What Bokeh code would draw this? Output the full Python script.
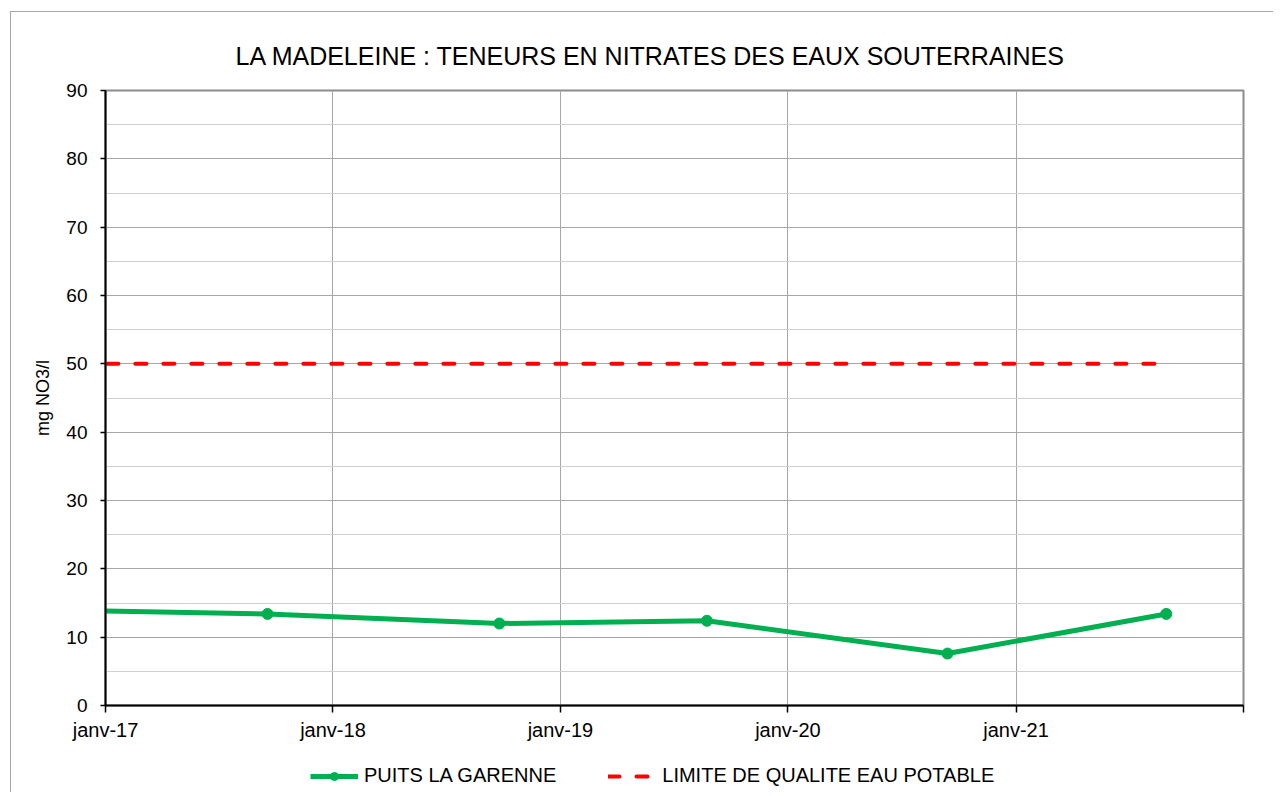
import calendar
from datetime import datetime

from bokeh.plotting import figure
from bokeh.layouts import column
from bokeh.models import FixedTicker, Legend, LegendItem, ColumnDataSource, Range1d
from bokeh.embed import file_html
from bokeh.resources import INLINE

# ---- data ----
puits_dates = ["2016-11-20", "2017-09-18", "2018-09-25", "2019-08-24", "2020-09-13", "2021-08-30"]
puits_values = [13.9, 13.4, 12.0, 12.4, 7.6, 13.4]
limite_dates = ["2016-11-20", "2017-09-18", "2018-09-25", "2019-08-24", "2020-09-13", "2021-08-30"]
limite_values = [50, 50, 50, 50, 50, 50]
tick_dates = ["2017-01-01", "2018-01-01", "2019-01-01", "2020-01-01", "2021-01-01", "2022-01-01"]
tick_labels = ["janv-17", "janv-18", "janv-19", "janv-20", "janv-21", ""]
y_ticks = [0, 10, 20, 30, 40, 50, 60, 70, 80, 90]
y_minor = [5, 15, 25, 35, 45, 55, 65, 75, 85]

title_text = "LA MADELEINE : TENEURS EN NITRATES DES EAUX SOUTERRAINES"
y_label = "mg NO3/l"
series_names = ["PUITS LA GARENNE", "LIMITE DE QUALITE EAU POTABLE"]


def ms(s):
    return calendar.timegm(datetime.strptime(s, "%Y-%m-%d").timetuple()) * 1000


FONT = "Liberation Sans"

tick_ms = [ms(d) for d in tick_dates]

p = figure(
    width=1262, height=738,
    output_backend="svg", toolbar_location=None,
    x_range=Range1d(tick_ms[0], tick_ms[-1]),
    y_range=Range1d(0, 90),
    min_border_left=94, min_border_right=30,
    min_border_top=78, min_border_bottom=45,
    title=title_text,
)
p.background_fill_color = "white"
p.border_fill_color = "white"
p.outline_line_color = "#8c8c8c"
p.outline_line_width = 2

p.title.text_font = FONT
p.title.text_font_size = "25px"
p.title.text_font_style = "normal"
p.title.text_color = "black"
p.title.align = "left"
p.title.offset = 130
p.title.standoff = 42

# x axis
p.xaxis.ticker = FixedTicker(ticks=tick_ms)
p.xaxis.major_label_overrides = {t: lab for t, lab in zip(tick_ms, tick_labels)}
p.xaxis.axis_line_color = "black"
p.xaxis.axis_line_width = 2
p.xaxis.major_tick_line_color = "black"
p.xaxis.major_tick_line_width = 1.5
p.xaxis.major_tick_out = 7
p.xaxis.major_tick_in = 0
p.xaxis.minor_tick_line_color = None
p.xaxis.major_label_text_font = FONT
p.xaxis.major_label_text_font_size = "20px"
p.xaxis.major_label_text_color = "black"
p.xaxis.major_label_standoff = 6

# y axis
p.yaxis.ticker = FixedTicker(ticks=y_ticks, minor_ticks=y_minor)
p.yaxis.axis_line_color = "black"
p.yaxis.axis_line_width = 2
p.yaxis.major_tick_line_color = "black"
p.yaxis.major_tick_line_width = 1.5
p.yaxis.major_tick_out = 5
p.yaxis.major_tick_in = 0
p.yaxis.minor_tick_line_color = None
p.yaxis.major_label_text_font = FONT
p.yaxis.major_label_text_font_size = "19px"
p.yaxis.major_label_text_color = "black"
p.yaxis.major_label_standoff = 13
p.yaxis.axis_label = y_label
p.yaxis.axis_label_text_font = FONT
p.yaxis.axis_label_text_font_size = "18px"
p.yaxis.axis_label_text_font_style = "normal"
p.yaxis.axis_label_text_color = "black"
p.yaxis.axis_label_standoff = 10

# grids
p.xgrid.ticker = FixedTicker(ticks=tick_ms)
p.xgrid.grid_line_color = "#a6a6a6"
p.xgrid.grid_line_width = 1
p.ygrid.ticker = FixedTicker(ticks=y_ticks, minor_ticks=y_minor)
p.ygrid.grid_line_color = "#a6a6a6"
p.ygrid.grid_line_width = 1
p.ygrid.minor_grid_line_color = "#cfcfcf"
p.ygrid.minor_grid_line_width = 1

src_p = ColumnDataSource(dict(x=[ms(d) for d in puits_dates], y=puits_values))
src_l = ColumnDataSource(dict(x=[ms(d) for d in limite_dates], y=limite_values))

LIM_STYLE = dict(line_color="#FF0000", line_width=4, line_dash="11 17", line_cap="round")
PUITS_LINE = dict(line_color="#00B050", line_width=5, line_join="round")
PUITS_PTS = dict(size=11, fill_color="#00B050", line_color="#00B050")

p.line("x", "y", source=src_l, **LIM_STYLE)
p.line("x", "y", source=src_p, **PUITS_LINE)
p.scatter("x", "y", source=src_p, **PUITS_PTS)

# ---- legend strip below the chart (same sources, same styles) ----
pl = figure(
    width=1262, height=42,
    output_backend="svg", toolbar_location=None,
    x_range=Range1d(0, 1), y_range=Range1d(0, 1),
    x_axis_location=None, y_axis_location=None,
    min_border=0,
)
pl.grid.visible = False
pl.outline_line_color = None
pl.background_fill_color = "white"
pl.border_fill_color = "white"

l_lim = pl.line("x", "y", source=src_l, **LIM_STYLE)
l_line = pl.line("x", "y", source=src_p, **PUITS_LINE)
l_pts = pl.scatter("x", "y", source=src_p, **PUITS_PTS)

legend = Legend(
    items=[LegendItem(label=series_names[0], renderers=[l_line, l_pts]),
           LegendItem(label=series_names[1], renderers=[l_lim])],
    orientation="horizontal",
    location=(205, 5),
    border_line_color=None,
    background_fill_alpha=0,
    padding=0, margin=0,
    spacing=52, label_standoff=6,
    glyph_width=48, glyph_height=20,
    label_height=20,
    label_text_font=FONT,
    label_text_font_size="20px",
    label_text_color="black",
)
pl.add_layout(legend)

layout = column(
    p, pl,
    spacing=0,
    margin=(11, 0, 0, 10),
    styles={"border-left": "1px solid #a6a6a6", "border-top": "1px solid #a6a6a6"},
)

open("out.html", "w").write(file_html(layout, INLINE))
